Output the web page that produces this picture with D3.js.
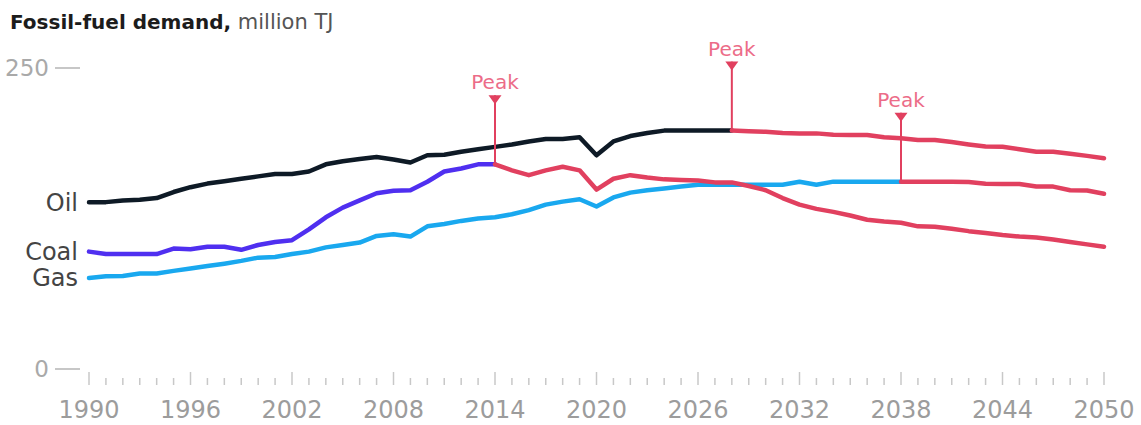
<!DOCTYPE html>
<html>
<head>
<meta charset="utf-8">
<script src="https://cdn.jsdelivr.net/npm/d3@7"></script>
<style>
  body { margin: 0; background: #fff; }
  text { font-family: 'DejaVu Sans', sans-serif; }
</style>
</head>
<body>
<div id="chart"></div>
<script>
const width = 1141
const height = 425

// yearly values, million TJ, 1990-2050
const years = d3.range(1990, 2051)

const oil = [
  138.6, 138.6, 140, 140.5, 142, 147, 151, 154, 156, 158,
  160, 162, 162, 164, 170, 172.5, 174.5, 176, 174, 171.5,
  177.5, 178, 180.5, 182.5, 184.5, 186.5, 189, 191, 191, 192.5,
  177.5, 189, 193.5, 196, 198, 198, 198, 198, 198, 197.5,
  197, 196, 195.7, 195.7, 194.5, 194.4, 194.3, 192.5, 191.6, 190.2,
  190.2, 188.5, 186.5, 184.8, 184.6, 182.5, 180.5, 180.5, 178.8, 177,
  175
]

const coal = [
  97.5, 95.5, 95.5, 95.5, 95.5, 100, 99.5, 101.5, 101.5, 99,
  103, 105.5, 107, 116, 126, 134, 140, 146, 148, 148.5,
  155.5, 164, 166.5, 170, 170, 165, 161, 165, 168, 165,
  149, 158, 161, 159, 157.5, 157, 156.5, 155, 155, 152,
  148.5, 142, 136.5, 133, 130.5, 127.5, 124, 122.5, 121.5, 118.5,
  118.2, 116.5, 114.5, 113, 111.3, 110, 109.3, 107.5, 105.5, 103.5,
  101.5
]

const gas = [
  75.5, 77, 77.2, 79.3, 79.4, 81.5, 83.5, 85.5, 87.5, 89.8,
  92.5, 93, 95.5, 97.5, 101, 103, 105, 110.5, 112, 110,
  118.5, 120.5, 123, 125, 126, 128.5, 132, 136.5, 139, 141,
  135, 142.5, 146.5, 148.5, 150, 151.5, 153, 153, 153, 153,
  153, 153, 155.5, 153, 155.6, 155.6, 155.6, 155.6, 155.6, 155.6,
  155.6, 155.6, 155.3, 153.8, 153.7, 153.7, 151.5, 151.5, 148.5, 148.2,
  145.5
]

const seriesNames = ['Oil', 'Coal', 'Gas']
const peakYears = [2028, 2014, 2038]
const yTicks = [0, 250]
const xTickLabels = [1990, 1996, 2002, 2008, 2014, 2020, 2026, 2032, 2038, 2044, 2050]

const colors = ['#0e1a26', '#4f2ff0', '#19a8ef']
const red = '#e1405f'

const series = [oil, coal, gas].map((values, i) => ({
  name: seriesNames[i],
  color: colors[i],
  peak: peakYears[i],
  points: years.map((y, j) => ({ year: y, value: values[j] }))
}))

const x = d3.scaleLinear().domain([1990, 2050]).range([89, 1104])
const y = d3.scaleLinear().domain([0, 250]).range([369, 68])

const svg = d3
  .select('#chart')
  .append('svg')
  .attr('width', width)
  .attr('height', height)

// title
const title = svg
  .append('text')
  .attr('x', 10)
  .attr('y', 29)
  .attr('font-size', 20)
title
  .append('tspan')
  .attr('font-weight', 'bold')
  .attr('fill', '#1c1c1c')
  .text('Fossil-fuel demand,')
title
  .append('tspan')
  .attr('fill', '#555')
  .attr('font-size', 21)
  .text(' million TJ')

// y axis: two labels with a dash
const yAxis = svg.append('g')
yAxis
  .selectAll('.y-label')
  .data(yTicks)
  .enter()
  .append('text')
  .attr('class', 'y-label')
  .attr('x', 49)
  .attr('y', d => y(d))
  .attr('dy', '0.35em')
  .attr('text-anchor', 'end')
  .attr('font-size', 23)
  .attr('fill', '#a9a9a9')
  .text(d => d)
yAxis
  .selectAll('.y-dash')
  .data(yTicks)
  .enter()
  .append('line')
  .attr('x1', 55)
  .attr('x2', 80)
  .attr('y1', d => y(d))
  .attr('y2', d => y(d))
  .attr('stroke', '#b5b5b5')
  .attr('stroke-width', 1.5)

// x axis: small tick every year, taller tick + label every 6 years
const xAxis = svg.append('g')
xAxis
  .selectAll('.x-tick')
  .data(years)
  .enter()
  .append('line')
  .attr('x1', d => x(d))
  .attr('x2', d => x(d))
  .attr('y1', d => (xTickLabels.includes(d) ? 372 : 378))
  .attr('y2', 385)
  .attr('stroke', '#c8c8c8')
  .attr('stroke-width', 1.5)
xAxis
  .selectAll('.x-label')
  .data(xTickLabels)
  .enter()
  .append('text')
  .attr('x', d => x(d))
  .attr('y', 418)
  .attr('text-anchor', 'middle')
  .attr('font-size', 24)
  .attr('fill', '#9c9c9c')
  .text(d => d)

const line = d3
  .line()
  .x(d => x(d.year))
  .y(d => y(d.value))

// before the peak in the fuel colour
svg
  .selectAll('.history')
  .data(series)
  .enter()
  .append('path')
  .attr('d', d => line(d.points.filter(p => p.year <= d.peak)))
  .attr('fill', 'none')
  .attr('stroke', d => d.color)
  .attr('stroke-width', 4.5)
  .attr('stroke-linejoin', 'round')
  .attr('stroke-linecap', 'round')

// after the peak in red
svg
  .selectAll('.decline')
  .data(series)
  .enter()
  .append('path')
  .attr('d', d => line(d.points.filter(p => p.year >= d.peak)))
  .attr('fill', 'none')
  .attr('stroke', red)
  .attr('stroke-width', 4.5)
  .attr('stroke-linejoin', 'round')
  .attr('stroke-linecap', 'round')

// peak markers
const markerHeight = 69
const peaks = svg
  .selectAll('.peak')
  .data(series)
  .enter()
  .append('g')
  .attr('transform', d => {
    const p = d.points.find(p => p.year === d.peak)
    return `translate(${x(p.year)},${y(p.value)})`
  })
peaks
  .append('line')
  .attr('y1', 0)
  .attr('y2', -markerHeight)
  .attr('stroke', red)
  .attr('stroke-width', 2)
peaks
  .append('path')
  .attr('d', `M-6.5,${-markerHeight} L6.5,${-markerHeight} L0,${-markerHeight + 9} Z`)
  .attr('fill', red)
peaks
  .append('text')
  .attr('y', -markerHeight - 6)
  .attr('text-anchor', 'middle')
  .attr('font-size', 20)
  .attr('fill', '#ec6c88')
  .text('Peak')

// series labels on the left
svg
  .selectAll('.series-label')
  .data(series)
  .enter()
  .append('text')
  .attr('x', 78)
  .attr('y', d => y(d.points[0].value))
  .attr('dy', '0.35em')
  .attr('text-anchor', 'end')
  .attr('font-size', 24)
  .attr('fill', '#444')
  .text(d => d.name)
</script>
</body>
</html>
